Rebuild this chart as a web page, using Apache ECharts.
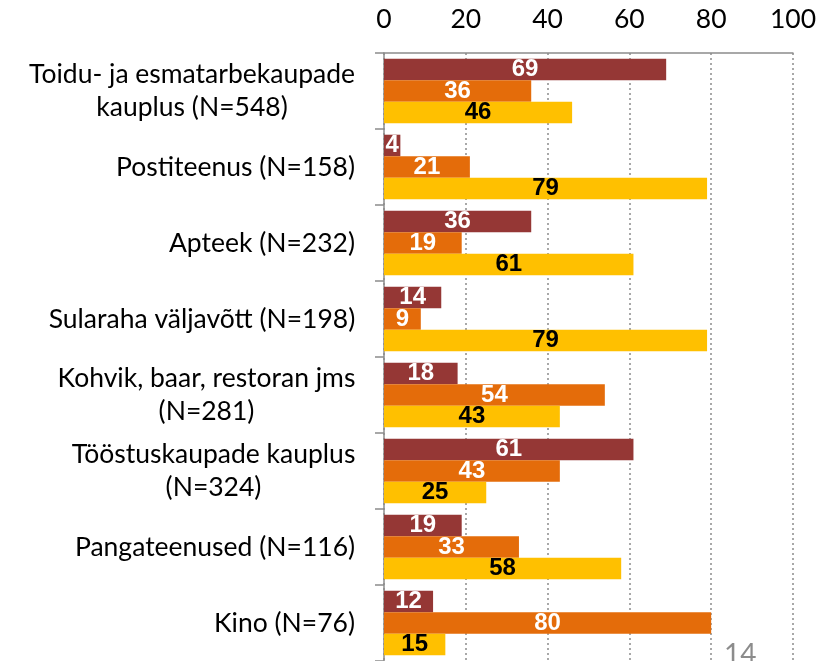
<!DOCTYPE html>
<html><head><meta charset="utf-8">
<script src="https://cdn.jsdelivr.net/npm/echarts@6/dist/echarts.min.js"></script>
<style>html,body{margin:0;padding:0;background:#fff}#c{width:819px;height:661px}</style>
</head><body><div id="c"></div>
<script>
const categories = [
  "Toidu- ja esmatarbekaupade\nkauplus (N=548)",
  "Postiteenus (N=158)",
  "Apteek (N=232)",
  "Sularaha väljavõtt (N=198)",
  "Kohvik, baar, restoran jms\n(N=281)",
  "Tööstuskaupade kauplus\n(N=324)",
  "Pangateenused (N=116)",
  "Kino (N=76)"
];
const series1 = [69, 4, 36, 14, 18, 61, 19, 12];
const series2 = [36, 21, 19, 9, 54, 43, 33, 80];
const series3 = [46, 79, 61, 79, 43, 25, 58, 15];
const xTicks = [0, 20, 40, 60, 80, 100];

const catFont = 'Lato';
const catSize = 26.5;
const cv = document.createElement('canvas').getContext('2d');
cv.font = catSize + 'px ' + catFont;
const rich = {};
categories.forEach((c, i) => {
  const lines = c.split('\n');
  const w = Math.max(...lines.map(l => cv.measureText(l).width));
  rich['c' + i] = {width: Math.ceil(w) + 1, align: 'center', fontFamily: catFont, fontSize: catSize, color: '#000', lineHeight: 33};
});

const chart = echarts.init(document.getElementById('c'));
const lbl = (color) => ({show: true, position: 'inside', color: color, fontFamily: 'Liberation Sans', fontWeight: 'bold', fontSize: 24});
chart.setOption({
  animation: false,
  grid: {left: 384, top: 53, width: 412, height: 612, containLabel: false},
  xAxis: {
    type: 'value', position: 'top', min: 0, max: 100, interval: 20,
    axisLine: {show: true, lineStyle: {color: '#8c8c8c', width: 1.5}},
    axisTick: {show: false},
    axisLabel: {margin: 20, color: '#000', fontFamily: catFont, fontSize: catSize,
      formatter: v => xTicks.includes(v) ? String(v) : ''},
    splitLine: {show: true, lineStyle: {color: '#8c8c8c', type: [2, 3], width: 1.5}}
  },
  yAxis: {
    type: 'category', data: categories, inverse: true,
    axisLine: {show: true, lineStyle: {color: '#8c8c8c', width: 1.5}},
    axisTick: {show: true, length: 9, lineStyle: {color: '#8c8c8c', width: 1.5}},
    axisLabel: {margin: 28, color: '#000',
      formatter: (v, i) => v.split('\n').map(l => '{c' + i + '|' + l + '}').join('\n'),
      rich: rich}
  },
  series: [
    {type: 'bar', data: series1, barGap: '0%', barCategoryGap: '15%', itemStyle: {color: '#953735'}, label: lbl('#fff')},
    {type: 'bar', data: series2, barGap: '0%', barCategoryGap: '15%', itemStyle: {color: '#E46C0A'}, label: lbl('#fff')},
    {type: 'bar', data: series3, barGap: '0%', barCategoryGap: '15%', itemStyle: {color: '#FFC000'}, label: lbl('#000')}
  ],
  graphic: [{type: 'text', left: 724, top: 641, style: {text: '14', fill: '#8c8c8c', font: '28px Lato'}}]
});
</script></body></html>
